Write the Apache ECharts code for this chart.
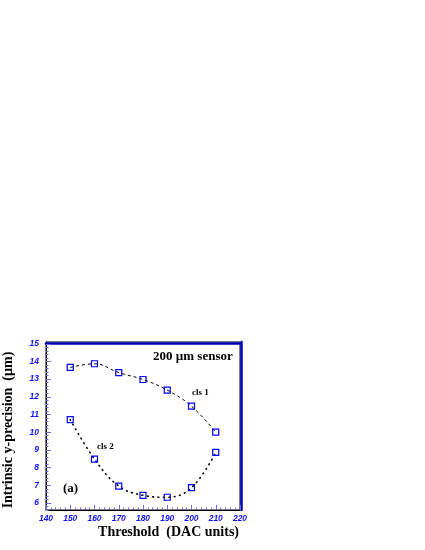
<!DOCTYPE html>
<html>
<head>
<meta charset="utf-8">
<script src="https://cdn.jsdelivr.net/npm/echarts@6/dist/echarts.min.js"></script>
<style>html,body{margin:0;padding:0;background:#fff}#c{width:425px;height:550px}</style>
</head>
<body>
<div id="c"></div>
<script>
const thresholds = [150, 160, 170, 180, 190, 200, 210];
const cls1 = [13.66, 13.87, 13.37, 12.98, 12.38, 11.47, 10.0];
const cls2 = [10.71, 8.48, 6.95, 6.43, 6.32, 6.86, 8.86];
const yTickLabels = [6, 7, 8, 9, 10, 11, 12, 13, 14, 15];
const yMinorTicks = [];
for (let v = 5.6; v <= 15.1; v += 0.2) yMinorTicks.push(Math.round(v * 10) / 10);

const BLUE = '#1010ff';
const labelFont = { color: BLUE, fontSize: 8.5, fontStyle: 'italic', fontWeight: 'bold', fontFamily: 'Liberation Sans' };
const tickColor = '#6a6ad8';
const BAND = '#0000b8';

const chart = echarts.init(document.getElementById('c'), null, { renderer: 'canvas' });
chart.setOption({
  animation: false,
  backgroundColor: '#fff',
  grid: { left: 44, top: 342, width: 196, height: 168, show: true, borderColor: '#000', borderWidth: 1, backgroundColor: 'transparent' },
  xAxis: [
    {
      type: 'value', min: 140, max: 220, interval: 10, position: 'bottom',
      axisLine: { show: true, onZero: false, lineStyle: { color: '#000', width: 1 } },
      axisTick: { show: true, inside: true, length: 5, lineStyle: { color: tickColor } },
      minorTick: { show: true, splitNumber: 5, length: 2.5, lineStyle: { color: tickColor } },
      splitLine: { show: false },
      axisLabel: Object.assign({ margin: 4 }, labelFont),
      name: 'Threshold  (DAC units)', nameLocation: 'end', nameGap: -1,
      nameTextStyle: { fontFamily: 'Liberation Serif', fontWeight: 'bold', fontSize: 14, color: '#000', align: 'right', verticalAlign: 'top', padding: [15, 0, 0, 0] }
    },
    {
      type: 'value', min: 140, max: 220, position: 'top', offset: -1.5,
      axisLine: { show: true, onZero: false, lineStyle: { color: BAND, width: 2.5 } },
      axisTick: { show: false }, axisLabel: { show: false }, splitLine: { show: false }
    }
  ],
  yAxis: [
    {
      type: 'value', min: 5.6, max: 15.1, position: 'left',
      axisLine: { show: true, onZero: false, lineStyle: { color: '#000', width: 1 } },
      axisTick: { show: true, inside: true, length: 5, customValues: yTickLabels, lineStyle: { color: tickColor } },
      axisLabel: Object.assign({ margin: 7, customValues: yTickLabels }, labelFont),
      splitLine: { show: false },
      name: 'Intrinsic y-precision  (\u00b5m)', nameLocation: 'middle', nameGap: 31, nameRotate: 90,
      nameTextStyle: { fontFamily: 'Liberation Serif', fontWeight: 'bold', fontSize: 14, color: '#000', padding: [0, 8, 0, 0] }
    },
    {
      type: 'value', min: 5.6, max: 15.1, position: 'left',
      axisLine: { show: false },
      axisTick: { show: true, inside: true, length: 2.5, customValues: yMinorTicks, lineStyle: { color: tickColor } },
      axisLabel: { show: false }, splitLine: { show: false }
    },
    {
      type: 'value', min: 5.6, max: 15.1, position: 'right', offset: 1.5,
      axisLine: { show: true, onZero: false, lineStyle: { color: BAND, width: 2.5 } },
      axisTick: { show: false }, axisLabel: { show: false }, splitLine: { show: false }
    }
  ],
  series: [
    {
      name: 'cls 1', type: 'line', xAxisIndex: 0, yAxisIndex: 0,
      data: thresholds.map((x, i) => [x, cls1[i]]),
      smooth: 0.4,
      lineStyle: { color: '#000', width: 1, type: [3, 3] },
      symbol: 'rect', symbolSize: 6,
      itemStyle: { color: 'rgba(255,255,255,0)', borderColor: '#0000ff', borderWidth: 1.2 },
      emphasis: { disabled: true }, z: 3
    },
    {
      name: 'cls 2', type: 'line', xAxisIndex: 0, yAxisIndex: 0,
      data: thresholds.map((x, i) => [x, cls2[i]]),
      smooth: 0.4,
      lineStyle: { color: '#000', width: 1.6, type: [0.8, 4.6], cap: 'round' },
      symbol: 'rect', symbolSize: 6,
      itemStyle: { color: 'rgba(255,255,255,0)', borderColor: '#0000ff', borderWidth: 1.2 },
      emphasis: { disabled: true }, z: 3
    }
  ],
  graphic: [
    { type: 'text', left: 153, top: 350, style: { text: '200 \u00b5m sensor', font: 'bold 13px "Liberation Serif"', fill: '#000' } },
    { type: 'text', left: 192, top: 388, style: { text: 'cls 1', font: 'bold 9px "Liberation Serif"', fill: '#000' } },
    { type: 'text', left: 97, top: 442, style: { text: 'cls 2', font: 'bold 9px "Liberation Serif"', fill: '#000' } },
    { type: 'text', left: 63, top: 482, style: { text: '(a)', font: 'bold 13px "Liberation Serif"', fill: '#000' } }
  ]
});
</script>
</body>
</html>
